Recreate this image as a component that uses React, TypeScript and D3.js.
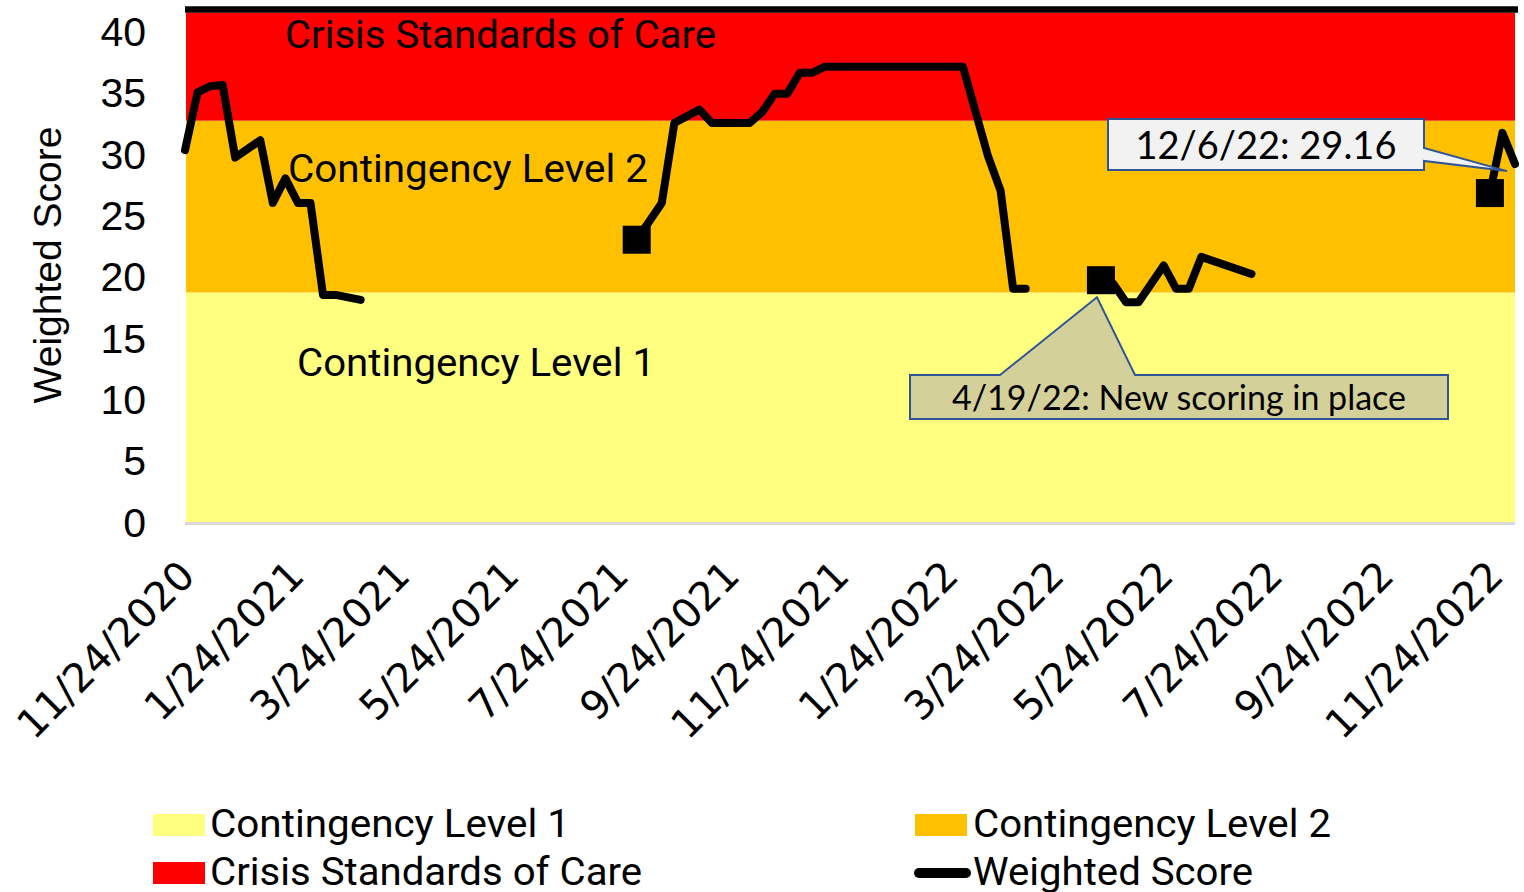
import * as d3 from "d3";

const WIDTH = 1524;
const HEIGHT = 892;

// plot area (bounds)
const PLOT = { left: 185, right: 1515, top: 6.5, bottom: 522 };

// bands (stacked areas in the original)
const bandNames = ["Contingency Level 1", "Contingency Level 2", "Crisis Standards of Care"];
const bandColors = ["#ffff80", "#ffc000", "#ff0000"];
const bandLimits = [0, 18.7, 32.7, 41.5];

// x axis ticks, every 2 months
const tickDates = [
  "2020-11-24", "2021-01-24", "2021-03-24", "2021-05-24", "2021-07-24",
  "2021-09-24", "2021-11-24", "2022-01-24", "2022-03-24", "2022-05-24",
  "2022-07-24", "2022-09-24", "2022-11-24",
];
const tickLabels = [
  "11/24/2020", "1/24/2021", "3/24/2021", "5/24/2021", "7/24/2021",
  "9/24/2021", "11/24/2021", "1/24/2022", "3/24/2022", "5/24/2022",
  "7/24/2022", "9/24/2022", "11/24/2022",
];
const yTicks = [0, 5, 10, 15, 20, 25, 30, 35, 40];

// weighted score, null = no data (line breaks)
const scoreDates = [
  "2020-11-24", "2020-12-01", "2020-12-08", "2020-12-15", "2020-12-22",
  "2021-01-05", "2021-01-12", "2021-01-19", "2021-01-26", "2021-02-02",
  "2021-02-09", "2021-02-16", "2021-03-02",
  "2021-03-09",
  "2021-08-03", "2021-08-17", "2021-08-24", "2021-09-07", "2021-09-14",
  "2021-09-21", "2021-09-28", "2021-10-05", "2021-10-12", "2021-10-19",
  "2021-10-26", "2021-11-02", "2021-11-09", "2021-11-16", "2021-11-23",
  "2021-11-30", "2021-12-07", "2021-12-14", "2021-12-21", "2021-12-28",
  "2022-01-04", "2022-01-11", "2022-01-18", "2022-01-25", "2022-02-01",
  "2022-02-15", "2022-02-22", "2022-03-01", "2022-03-08",
  "2022-03-15",
  "2022-04-19", "2022-04-26", "2022-05-03", "2022-05-10", "2022-05-24",
  "2022-05-31", "2022-06-07", "2022-06-14", "2022-07-12",
  "2022-07-19",
  "2022-11-22", "2022-11-29", "2022-12-06",
];
const scoreValues = [
  30.3, 35.0, 35.5, 35.6, 29.7,
  31.1, 26.0, 28.0, 26.0, 26.0,
  18.5, 18.5, 18.1,
  null,
  23.0, 26.0, 32.5, 33.6, 32.5,
  32.5, 32.5, 32.5, 33.4, 34.9,
  34.9, 36.6, 36.6, 37.1, 37.1,
  37.1, 37.1, 37.1, 37.1, 37.1,
  37.1, 37.1, 37.1, 37.1, 37.1,
  29.8, 27.0, 19.0, 19.0,
  null,
  19.7, 19.4, 17.9, 17.9, 20.9,
  19.0, 19.0, 21.6, 20.2,
  null,
  26.8, 31.7, 29.16,
];
const markerDates = ["2021-08-03", "2022-04-19", "2022-11-22"];

const parse = d3.timeParse("%Y-%m-%d");

export default function App() {
  const data = scoreDates.map((d, i) => ({ date: parse(d) as Date, value: scoreValues[i] }));

  const xScale = d3
    .scaleTime()
    .domain([parse("2020-11-24") as Date, parse("2022-12-06") as Date])
    .range([PLOT.left, PLOT.right]);
  const yScale = d3.scaleLinear().domain([0, 42]).range([PLOT.bottom, PLOT.top]);

  const line = d3
    .line<{ date: Date; value: number | null }>()
    .defined((d) => d.value !== null)
    .x((d) => xScale(d.date))
    .y((d) => yScale(d.value as number));

  const markers = data.filter((d) => markerDates.includes(d3.timeFormat("%Y-%m-%d")(d.date)));

  const bands = bandNames.map((name, i) => (
    <rect
      key={name}
      x={PLOT.left + 1}
      y={yScale(bandLimits[i + 1])}
      width={PLOT.right - PLOT.left - 1}
      height={yScale(bandLimits[i]) - yScale(bandLimits[i + 1])}
      fill={bandColors[i]}
    />
  ));

  const yLabels = yTicks.map((t) => (
    <text
      key={t}
      x={146}
      y={yScale(t)}
      dy="0.36em"
      textAnchor="end"
      fontSize={41}
      fontFamily="Liberation Sans, Arial, sans-serif"
    >
      {t}
    </text>
  ));

  const xLabels = tickDates.map((d, i) => {
    const x = xScale(parse(d) as Date);
    return (
      <text
        key={d}
        transform={`translate(${x + 2},568) rotate(-45)`}
        dy="0.35em"
        textAnchor="end"
        fontSize={40}
        fontFamily="DejaVu Sans, Verdana, sans-serif"
      >
        {tickLabels[i]}
      </text>
    );
  });

  // callout tips point at the data
  const last = data[data.length - 1];
  const tip1 = [xScale(last.date) - 8, yScale(last.value as number) + 7];
  const newScoring = markers[1];
  const tip2 = [xScale(newScoring.date) - 4, yScale(newScoring.value as number) + 17];

  const bandFont = "Roboto, Liberation Sans, sans-serif";

  return (
    <svg width={WIDTH} height={HEIGHT} style={{ position: "absolute", left: 0, top: 0 }}>
      <rect width={WIDTH} height={HEIGHT} fill="white" />
      {bands}
      {/* top edge */}
      <line x1={PLOT.left} x2={PLOT.right + 3} y1={PLOT.top + 3} y2={PLOT.top + 3} stroke="black" strokeWidth={6.5} />
      {/* x axis line */}
      <line x1={PLOT.left} x2={PLOT.right} y1={PLOT.bottom + 1.5} y2={PLOT.bottom + 1.5} stroke="#d9d9d9" strokeWidth={3} />

      <text x={285} y={48} fontSize={38} fontFamily={bandFont} textLength={431} lengthAdjust="spacingAndGlyphs">
        Crisis Standards of Care
      </text>
      <text x={288} y={182} fontSize={38} fontFamily={bandFont} textLength={360} lengthAdjust="spacingAndGlyphs">
        Contingency Level 2
      </text>
      <text x={297} y={376} fontSize={38} fontFamily={bandFont} textLength={358} lengthAdjust="spacingAndGlyphs">
        Contingency Level 1
      </text>

      <path
        d={line(data) ?? ""}
        fill="none"
        stroke="black"
        strokeWidth={8}
        strokeLinejoin="round"
        strokeLinecap="round"
      />
      {markers.map((d, i) => (
        <rect
          key={i}
          x={xScale(d.date) - 14}
          y={yScale(d.value as number) - 14}
          width={28}
          height={28}
          fill="black"
        />
      ))}

      {/* callout: 12/6/22 */}
      <path
        d={`M1108,119 H1424 V148 L${tip1[0]},${tip1[1]} L1424,161 V170 H1108 Z`}
        fill="#f2f2f2"
        stroke="#2f5597"
        strokeWidth={2}
      />
      <text x={1266} y={159} textAnchor="middle" fontSize={38} fontFamily="Lato, sans-serif">
        12/6/22: 29.16
      </text>

      {/* callout: new scoring */}
      <path
        d={`M910,375 H1000 L${tip2[0]},${tip2[1]} L1135,375 H1448 V419 H910 Z`}
        fill="#d4d09a"
        stroke="#2f5597"
        strokeWidth={2}
      />
      <text x={1179} y={410} textAnchor="middle" fontSize={34} fontFamily="Lato, sans-serif">
        4/19/22: New scoring in place
      </text>

      {yLabels}
      <text
        transform="translate(61,265) rotate(-90)"
        textAnchor="middle"
        fontSize={39}
        fontFamily="Liberation Sans, Arial, sans-serif"
      >
        Weighted Score
      </text>
      {xLabels}

      {/* legend */}
      <g fontSize={38} fontFamily={bandFont}>
        <rect x={153} y={814} width={52} height={22} fill={bandColors[0]} />
        <text x={210} y={837} textLength={360} lengthAdjust="spacingAndGlyphs">{bandNames[0]}</text>
        <rect x={915} y={814} width={52} height={22} fill={bandColors[1]} />
        <text x={973} y={837} textLength={358} lengthAdjust="spacingAndGlyphs">{bandNames[1]}</text>
        <rect x={153} y={862} width={52} height={22} fill={bandColors[2]} />
        <text x={210} y={885} textLength={432} lengthAdjust="spacingAndGlyphs">{bandNames[2]}</text>
        <line x1={919} x2={966} y1={873} y2={873} stroke="black" strokeWidth={10} strokeLinecap="round" />
        <text x={973} y={885} textLength={280} lengthAdjust="spacingAndGlyphs">Weighted Score</text>
      </g>
    </svg>
  );
}
